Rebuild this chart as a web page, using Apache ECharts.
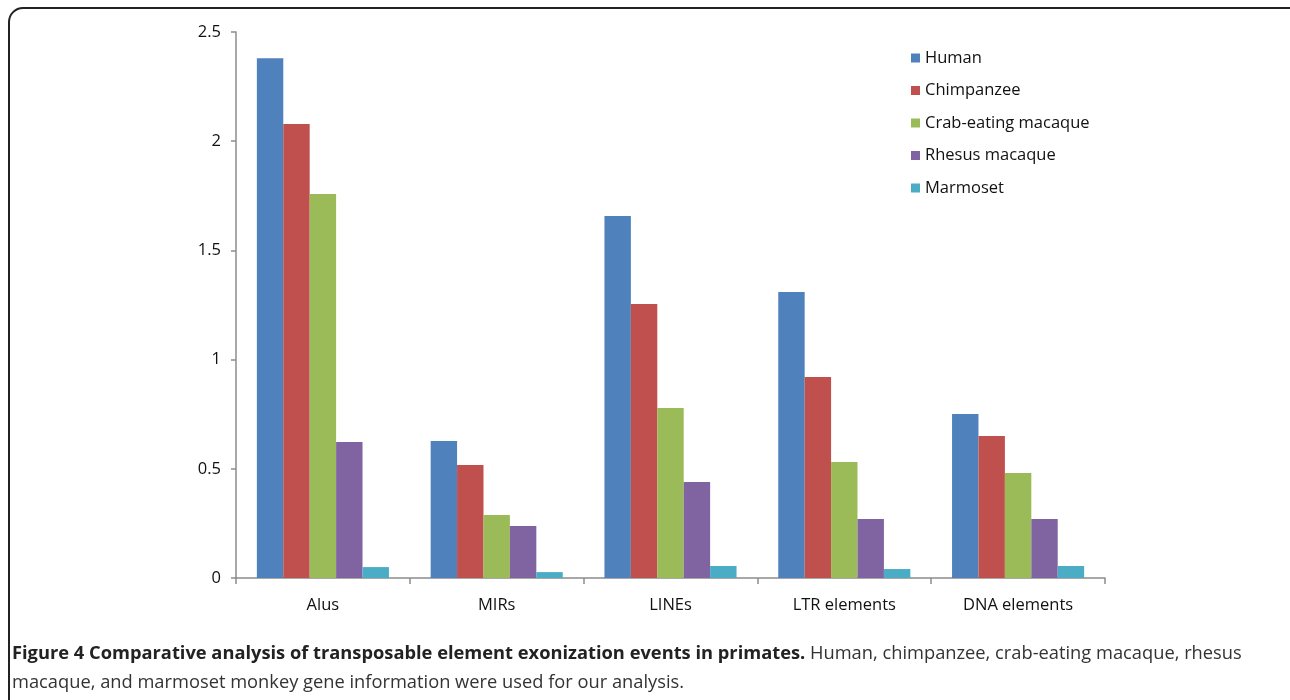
<!DOCTYPE html>
<html>
<head>
<meta charset="utf-8">
<script src="https://cdn.jsdelivr.net/npm/echarts@6/dist/echarts.min.js"></script>
<style>
html,body{margin:0;padding:0;background:#fff;}
#chart{width:1290px;height:700px;}
</style>
</head>
<body>
<div id="chart"></div>
<script>
const categories = ['Alus', 'MIRs', 'LINEs', 'LTR elements', 'DNA elements'];
const seriesNames = ['Human', 'Chimpanzee', 'Crab-eating macaque', 'Rhesus macaque', 'Marmoset'];
const human = [2.38, 0.627, 1.658, 1.31, 0.751];
const chimpanzee = [2.079, 0.517, 1.255, 0.92, 0.65];
const crabEating = [1.758, 0.288, 0.778, 0.531, 0.481];
const rhesus = [0.623, 0.238, 0.44, 0.27, 0.27];
const marmoset = [0.05, 0.027, 0.055, 0.041, 0.055];
const yTicks = [0, 0.5, 1, 1.5, 2, 2.5];
const colors = ['#4F81BD', '#C0504D', '#9BBB59', '#8064A2', '#4BACC6'];
const captionBold = 'Figure 4 Comparative analysis of transposable element exonization events in primates.';
const captionRest1 = ' Human, chimpanzee, crab-eating macaque, rhesus';
const captionRest2 = 'macaque, and marmoset monkey gene information were used for our analysis.';

const allData = [human, chimpanzee, crabEating, rhesus, marmoset];
const chart = echarts.init(document.getElementById('chart'));
const font = "'Open Sans', 'DejaVu Sans', sans-serif";
chart.setOption({
  animation: false,
  color: colors,
  grid: {left: 236, top: 32, width: 869, height: 546, containLabel: false},
  legend: {
    orient: 'vertical', left: 906, top: 44,
    itemWidth: 9, itemHeight: 9, itemGap: 14.5,
    icon: 'rect',
    data: seriesNames,
    textStyle: {fontFamily: font, fontSize: 16.5, color: '#111', lineHeight: 18}
  },
  xAxis: {
    type: 'category', data: categories,
    axisLine: {lineStyle: {color: '#8c8c8c', width: 1.5}},
    axisTick: {show: true, length: 6, lineStyle: {color: '#8c8c8c', width: 1.5}},
    axisLabel: {fontFamily: font, fontSize: 16.5, color: '#111', margin: 19}
  },
  yAxis: {
    type: 'value', min: 0, max: 2.5, interval: 0.5,
    splitLine: {show: false},
    axisLine: {show: true, lineStyle: {color: '#8c8c8c', width: 1.5}},
    axisTick: {show: true, length: 5, lineStyle: {color: '#8c8c8c', width: 1.5}},
    axisLabel: {fontFamily: font, fontSize: 16.5, color: '#111', margin: 15,
      formatter: v => yTicks.includes(v) ? String(v) : ''}
  },
  series: seriesNames.map((n, i) => ({
    name: n, type: 'bar', data: allData[i],
    barGap: '0%', barCategoryGap: '24%',
    itemStyle: {color: colors[i]}
  })),
  graphic: [
    {type: 'rect', shape: {x: 9, y: 8, width: 1320, height: 720, r: 14},
      style: {fill: 'none', stroke: '#222', lineWidth: 2}, silent: true},
    {type: 'text', left: 12, top: 645,
      style: {
        text: '{b|' + captionBold + '}{n|' + captionRest1 + '}\n{n|' + captionRest2 + '}',
        rich: {
          b: {fontFamily: font, fontSize: 18.3, fontWeight: 'bold', fill: '#222', lineHeight: 29},
          n: {fontFamily: font, fontSize: 18.3, fill: '#333', lineHeight: 29}
        }
      }}
  ]
});
</script>
</body>
</html>
